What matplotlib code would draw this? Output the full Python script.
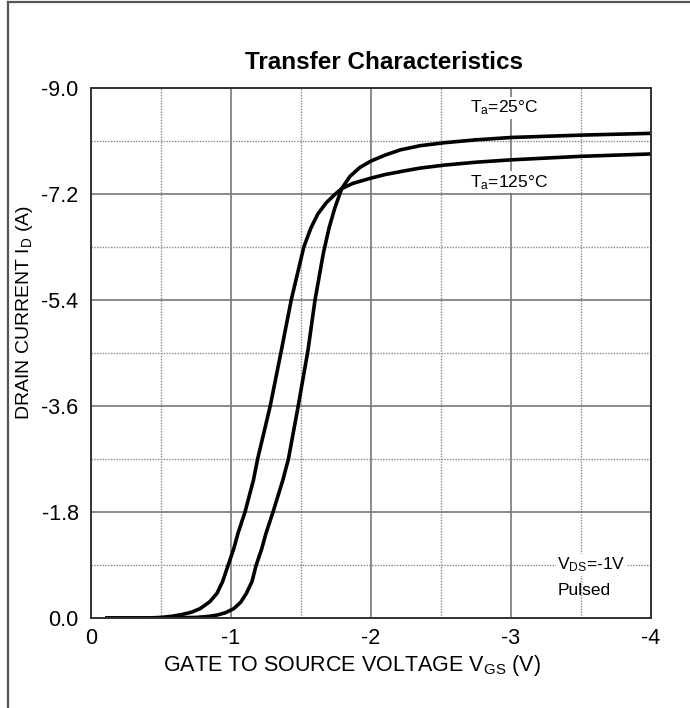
import matplotlib
matplotlib.use("Agg")
import matplotlib.pyplot as plt
from matplotlib.lines import Line2D

# ----------------------------
# Data
# ----------------------------
vgs_25 = [-0.10, -0.50, -0.75, -0.85, -0.90, -0.96, -1.02, -1.07, -1.11, -1.15, -1.18,
          -1.22, -1.25, -1.30, -1.37, -1.41, -1.48, -1.55, -1.60, -1.66, -1.70, -1.74,
          -1.79, -1.85, -1.92, -2.00, -2.10, -2.21, -2.35, -2.52, -2.75, -3.00, -3.50,
          -4.00]
id_25 = [0.0, 0.0, -0.01, -0.03, -0.05, -0.09, -0.16, -0.27, -0.42, -0.62, -0.90,
         -1.18, -1.44, -1.80, -2.34, -2.70, -3.60, -4.55, -5.40, -6.20, -6.62, -6.95,
         -7.29, -7.50, -7.65, -7.76, -7.86, -7.95, -8.02, -8.07, -8.12, -8.16, -8.20,
         -8.23]

vgs_125 = [-0.10, -0.40, -0.50, -0.58, -0.65, -0.72, -0.78, -0.85, -0.90, -0.94, -0.98,
           -1.02, -1.05, -1.10, -1.16, -1.19, -1.28, -1.36, -1.43, -1.48, -1.52, -1.57,
           -1.62, -1.68, -1.74, -1.79, -1.87, -2.00, -2.10, -2.21, -2.35, -2.52, -2.75,
           -3.00, -3.50, -4.00]
id_125 = [0.0, 0.0, -0.01, -0.03, -0.06, -0.10, -0.16, -0.28, -0.42, -0.62, -0.90,
          -1.18, -1.44, -1.80, -2.34, -2.70, -3.60, -4.55, -5.40, -5.90, -6.30, -6.62,
          -6.86, -7.05, -7.19, -7.29, -7.38, -7.47, -7.53, -7.58, -7.64, -7.69, -7.74,
          -7.78, -7.84, -7.88]

x_ticks = [0, -1, -2, -3, -4]
x_minor = [-0.5, -1.5, -2.5, -3.5]
y_ticks = [0.0, -1.8, -3.6, -5.4, -7.2, -9.0]
y_minor = [-0.9, -2.7, -4.5, -6.3, -8.1]

# ----------------------------
# Plot styling
# ----------------------------
plt.rcParams.update(
    {
        "font.family": ["Liberation Sans", "DejaVu Sans"],
        "font.size": 14,
        "xtick.labelsize": 15.5,
        "ytick.labelsize": 15.5,
    }
)

fig = plt.figure(figsize=(6.9, 7.08), dpi=100)
ax = fig.add_axes([0.1319, 0.1271, 0.8116, 0.7486])

# page frame (top and left edge of the datasheet box)
fig.add_artist(Line2D([8 / 690, 1.0], [1 - 2 / 708, 1 - 2 / 708], color="#555555", linewidth=1.6))
fig.add_artist(Line2D([8 / 690, 8 / 690], [0.0, 1 - 2 / 708], color="#555555", linewidth=1.6))

ax.plot(vgs_25, id_25, color="black", linewidth=2.6, solid_capstyle="butt")
ax.plot(vgs_125, id_125, color="black", linewidth=2.6, solid_capstyle="butt")

ax.set_xlim(0, -4)
ax.set_ylim(0, -9)
ax.set_xticks(x_ticks)
ax.set_xticklabels(["0", "-1", "-2", "-3", "-4"])
ax.set_yticks(y_ticks)
ax.set_yticklabels(["0.0", "-1.8", "-3.6", "-5.4", "-7.2", "-9.0"])
ax.set_xticks(x_minor, minor=True)
ax.set_yticks(y_minor, minor=True)
ax.tick_params(which="both", length=0)
ax.tick_params(axis="x", pad=7)
ax.tick_params(axis="y", pad=9)

ax.grid(True, which="major", color="#777777", linewidth=1.2, linestyle="-")
ax.grid(True, which="minor", color="#888888", linewidth=1.0, linestyle=(0, (1, 1)))
ax.set_axisbelow(True)
for s in ax.spines.values():
    s.set_color("#333333")
    s.set_linewidth(1.4)

ax.set_title("Transfer Characteristics", fontsize=17.5, fontweight="bold", pad=14)
ax.title.set_x(0.523)
ax.set_xlabel(r"GATE TO SOURCE VOLTAGE V$\mathregular{_{GS}}$ (V)", fontsize=15.5)
ax.xaxis.set_label_coords(0.466, -0.066)
ax.set_ylabel(r"DRAIN CURRENT I$\mathregular{_{D}}$ (A)", fontsize=14)
ax.yaxis.set_label_coords(-0.1, 0.577)

box = dict(facecolor="white", edgecolor="none", pad=1)
ax.text(-2.71, -8.66, r"T$\mathregular{_{a}}$=25°C", fontsize=12.5, ha="left", va="center", bbox=box)
ax.text(-2.71, -7.40, r"T$\mathregular{_{a}}$=125°C", fontsize=12.5, ha="left", va="center", bbox=box)
ax.text(-3.33, -0.90, r"V$\mathregular{_{DS}}$=-1V", fontsize=12.5, ha="left", va="center", bbox=box)
ax.text(-3.33, -0.47, "Pulsed", fontsize=12.5, ha="left", va="center")

fig.savefig("out.png", dpi=100)
